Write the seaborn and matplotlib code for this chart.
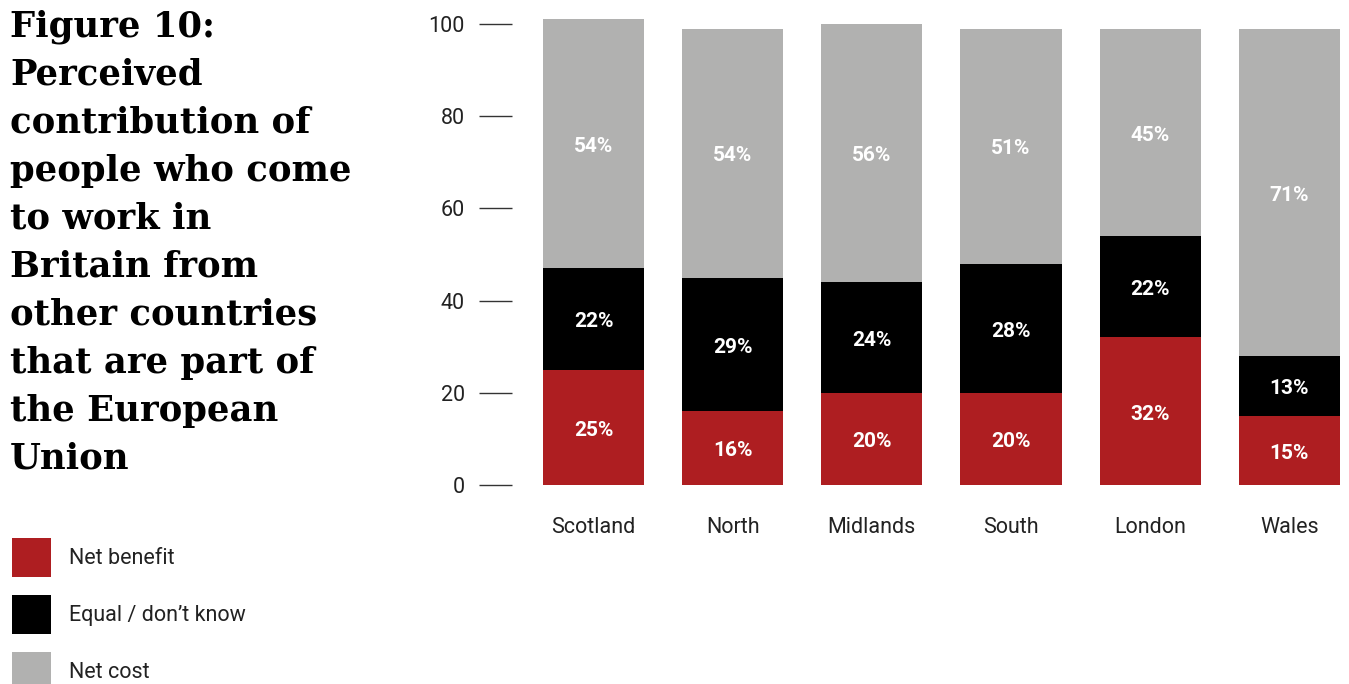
import matplotlib
matplotlib.use("Agg")
import matplotlib.pyplot as plt
from matplotlib.patches import Rectangle
import numpy as np
import pandas as pd
import seaborn as sns

# Survey results by region (percent)
regions = ["Scotland", "North", "Midlands", "South", "London", "Wales"]
net_benefit = [25, 16, 20, 20, 32, 15]
equal_dont_know = [22, 29, 24, 28, 22, 13]
net_cost = [54, 54, 56, 51, 45, 71]

series_names = ["Net benefit", "Equal / don\u2019t know", "Net cost"]
series_colors = ["#AE1E21", "#000000", "#B1B1B0"]
y_ticks = [0, 20, 40, 60, 80, 100]

sns.set_theme(style="white")
plt.rcParams["font.family"] = ["Roboto", "DejaVu Sans"]

W, H = 1349, 684
fig = plt.figure(figsize=(W / 100, H / 100), dpi=100)
ax = fig.add_axes([512 / W, (H - 485) / H, (1345 - 512) / W, (485 - 14.8) / H])

df = pd.DataFrame({
    "region": regions,
    "benefit": net_benefit,
    "equal": equal_dont_know,
    "cost": net_cost,
})
df["top_benefit"] = df["benefit"]
df["top_equal"] = df["benefit"] + df["equal"]
df["top_cost"] = df["top_equal"] + df["cost"]

# Stacked bars: draw the cumulative totals back to front
for col, color in zip(["top_cost", "top_equal", "top_benefit"], series_colors[::-1]):
    sns.barplot(data=df, x="region", y=col, color=color, width=0.727,
                saturation=1, linewidth=0, ax=ax, order=regions)

# Segment labels
for i, row in df.iterrows():
    segs = [(0, row["benefit"]), (row["top_benefit"], row["equal"]),
            (row["top_equal"], row["cost"])]
    for base, val in segs:
        ax.text(i, base + val / 2 - 0.6, f"{val}%", ha="center", va="center",
                color="white", fontsize=15, fontweight="bold")

ax.set_xlim(-0.586, 5.4)
ax.set_ylim(0, 102)
ax.set_yticks(y_ticks)
ax.set_yticklabels([str(t) for t in y_ticks])
ax.set_xlabel("")
ax.set_ylabel("")
for s in ax.spines.values():
    s.set_visible(False)
ax.tick_params(axis="y", left=True, length=24, width=1, color="#333333",
               pad=10, labelsize=15.5, labelcolor="#222222")
ax.tick_params(axis="x", bottom=False, length=0, pad=23, labelsize=15.5,
               labelcolor="#222222")

# Title block
title_lines = ["Figure 10:", "Perceived", "contribution of", "people who come",
               "to work in", "Britain from", "other countries",
               "that are part of", "the European", "Union"]
fig.text(10 / W, 1 - 9 / H, "\n".join(title_lines), ha="left", va="top",
         fontsize=25.5, fontweight="bold", family=["DejaVu Serif"],
         linespacing=1.52, color="#000000")

# Legend
for k, (name, color) in enumerate(zip(series_names, series_colors)):
    y_top = 538 + 57 * k
    fig.add_artist(Rectangle((12 / W, 1 - (y_top + 39) / H), 39 / W, 39 / H,
                             transform=fig.transFigure, facecolor=color,
                             edgecolor="none"))
    fig.text(69 / W, 1 - (y_top + 21) / H, name, ha="left", va="center",
             fontsize=15.5, color="#222222")

fig.savefig("out.png", dpi=100)
